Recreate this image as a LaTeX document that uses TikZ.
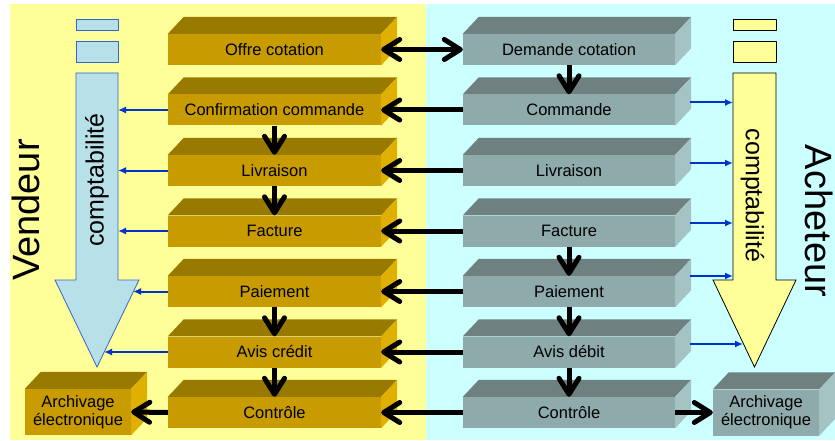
\documentclass[tikz,border=0pt]{standalone}
\usepackage{fontspec}
\setmainfont{Liberation Sans}
\usetikzlibrary{arrows.meta}
\definecolor{vendorbg}{RGB}{255,255,153}
\definecolor{buyerbg}{RGB}{204,255,255}
\definecolor{vfront}{RGB}{200,155,0}
\definecolor{vtop}{RGB}{153,122,0}
\definecolor{vside}{RGB}{224,176,0}
\definecolor{bfront}{RGB}{143,170,170}
\definecolor{btop}{RGB}{110,128,128}
\definecolor{bside}{RGB}{166,195,195}
\definecolor{comptablue}{RGB}{184,224,232}
\definecolor{comptaedge}{RGB}{51,102,204}
\definecolor{linkblue}{RGB}{0,51,204}

\begin{document}
\begin{tikzpicture}[line cap=round,line join=round,x=1pt,y=-1pt,
  box/.style={inner sep=0pt, minimum height=31pt, font=\fontsize{16.5}{18}\selectfont,
    append after command={\pgfextra{
      \fill[#1top] (\tikzlastnode.north west) -- ++(16,-17) -- ([shift={(16,-17)}]\tikzlastnode.north east) -- (\tikzlastnode.north east) -- cycle;
      \fill[#1side] (\tikzlastnode.north east) -- ++(16,-17) -- ([shift={(16,-17)}]\tikzlastnode.south east) -- (\tikzlastnode.south east) -- cycle;}}},
  vbox/.style={box=v, fill=vfront, minimum width=213pt},
  bbox/.style={box=b, fill=bfront, minimum width=212pt},
  archive/.style={minimum width=106pt, minimum height=46pt, align=center},
  flow/.style={line width=5pt, line cap=butt, -{Straight Barb[length=16pt,width=20pt,round]}},
  flowboth/.style={flow, {Straight Barb[length=16pt,width=20pt,round]}-{Straight Barb[length=16pt,width=20pt,round]}},
  link/.style={draw=linkblue, line width=2pt, line cap=butt, -{Latex[length=8pt,width=7pt]}},
  side/.style={font=\fontsize{38}{40}\selectfont},
  compta/.style={font=\fontsize{25}{27}\selectfont}]
\useasboundingbox (0,0) rectangle (835,441);
% backgrounds
\fill[vendorbg] (10,4) rectangle (426,440);
\fill[buyerbg] (426,4) rectangle (835,440);
% comptabilite arrows
\draw[comptaedge, fill=comptablue, line width=0.8pt] (76,19.5) rectangle (118,30);
\draw[comptaedge, fill=comptablue, line width=0.8pt] (76,41) rectangle (118,62);
\draw[comptaedge, fill=comptablue, line width=0.8pt, line join=miter] (76,73) -- (118,73) -- (118,280) -- (139,280) -- (97,367) -- (55,280) -- (76,280) -- cycle;
\draw[black, fill=vendorbg, line width=0.8pt] (733,19.5) rectangle (776,30);
\draw[black, fill=vendorbg, line width=0.8pt] (733,41) rectangle (776,62);
\draw[black, fill=vendorbg, line width=0.8pt, line join=miter] (733,73) -- (776,73) -- (776,280) -- (796,280) -- (754.5,367) -- (713,280) -- (733,280) -- cycle;
\node[compta, rotate=90] (lcompta) at (97,180) {comptabilité};
\node[compta, rotate=-90] (rcompta) at (752.5,195.5) {comptabilité};
\node[side, rotate=90] (vendeur) at (26,210) {Vendeur};
\node[side, rotate=-90] (acheteur) at (819,221) {Acheteur};
% vendeur
\node[vbox] (v1) at (274.5,49.5) {Offre cotation};
\node[vbox] (v2) at (274.5,110) {Confirmation commande};
\node[vbox] (v3) at (274.5,170.5) {Livraison};
\node[vbox] (v4) at (274.5,231) {Facture};
\node[vbox] (v5) at (274.5,291.5) {Paiement};
\node[vbox] (v6) at (274.5,352) {Avis crédit};
\node[vbox] (v7) at (274.5,412.5) {Contrôle};
\node[vbox, archive] (va) at (78,412) {Archivage\\électronique};
% acheteur
\node[bbox] (b1) at (569,49.5) {Demande cotation};
\node[bbox] (b2) at (569,110) {Commande};
\node[bbox] (b3) at (569,170.5) {Livraison};
\node[bbox] (b4) at (569,231) {Facture};
\node[bbox] (b5) at (569,291.5) {Paiement};
\node[bbox] (b6) at (569,352) {Avis débit};
\node[bbox] (b7) at (569,412.5) {Contrôle};
\node[bbox, archive] (ba) at (766,412.5) {Archivage\\électronique};
% echanges
\draw[flowboth] (v1.east) -- (b1.west);
\draw[flow] (b2.west) -- (v2.east);
\draw[flow] (b3.west) -- (v3.east);
\draw[flow] (b4.west) -- (v4.east);
\draw[flow] (b5.west) -- (v5.east);
\draw[flow] (b6.west) -- (v6.east);
\draw[flow] (b7.west) -- (v7.east);
\draw[flow] (v2.south) -- (v3.north);
\draw[flow] (v3.south) -- (v4.north);
\draw[flow] (v5.south) -- (v6.north);
\draw[flow] (v6.south) -- (v7.north);
\draw[flow] (b1.south) -- (b2.north);
\draw[flow] (b4.south) -- (b5.north);
\draw[flow] (b5.south) -- (b6.north);
\draw[flow] (b6.south) -- (b7.north);
\draw[flow] (v7.west) -- (va.east);
\draw[flow] (b7.east) -- (ba.west);
% comptabilite
\coordinate (lc2) at (118,110);
\coordinate (lc3) at (118,170.5);
\coordinate (lc4) at (118,231);
\coordinate (lc5) at (133,291.5);
\coordinate (lc6) at (104,352);
\coordinate (rc2) at (733,102.5);
\coordinate (rc3) at (733,163);
\coordinate (rc4) at (733,223);
\coordinate (rc5) at (733,276);
\coordinate (rc6) at (743,344);
\draw[link] (v2.west) -- (lc2);
\draw[link] (v3.west) -- (lc3);
\draw[link] (v4.west) -- (lc4);
\draw[link] (v5.west) -- (lc5);
\draw[link] (v6.west) -- (lc6);
\draw[link] ([shift={(15,-7.5)}]b2.east) -- (rc2);
\draw[link] ([shift={(15,-7.5)}]b3.east) -- (rc3);
\draw[link] ([shift={(15,-8)}]b4.east) -- (rc4);
\draw[link] ([shift={(15,-15.5)}]b5.east) -- (rc5);
\draw[link] ([shift={(15,-8)}]b6.east) -- (rc6);
\end{tikzpicture}
\end{document}
